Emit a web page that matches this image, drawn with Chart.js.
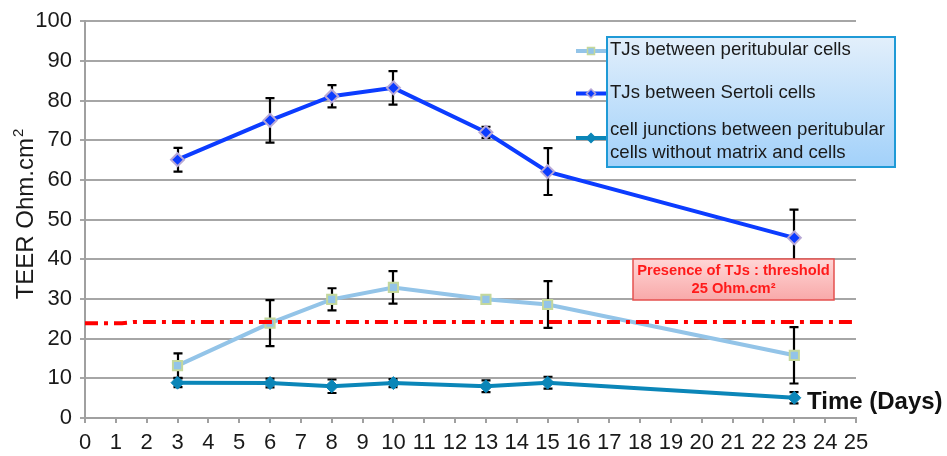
<!DOCTYPE html>
<html><head><meta charset="utf-8">
<script src="https://cdn.jsdelivr.net/npm/chart.js@4.4.1/dist/chart.umd.min.js"></script>
<style>html,body{margin:0;padding:0;background:#fff;}canvas{display:block;}</style>
</head><body>
<canvas id="c" width="947" height="456"></canvas>
<script>
// ---- data ----
const days = [3, 6, 8, 10, 13, 15, 23];
const seriesNames = ["TJs between peritubular cells", "TJs between Sertoli cells", "cell junctions between peritubular cells without matrix and cells"];
const legendLines = [["TJs between peritubular cells"], ["TJs between Sertoli cells"], ["cell junctions between peritubular", "cells without matrix and cells"]];
const peritubular = [13.2, 23.9, 29.9, 32.9, 29.9, 28.6, 15.8];
const peritubularErr = [3.1, 5.8, 2.8, 4.1, 1.0, 5.9, 7.1];
const sertoli = [65.1, 75.0, 81.1, 83.2, 72.0, 62.1, 45.4];
const sertoliErr = [3.0, 5.6, 2.8, 4.2, 1.4, 5.9, 7.1];
const junctions = [8.9, 8.8, 8.0, 8.8, 8.0, 8.9, 5.1];
const junctionsErr = [1.1, 1.1, 1.7, 1.0, 1.5, 1.5, 1.4];
const thresholdX = [0, 1.2, 1.6, 25];
const thresholdY = [23.9, 23.9, 24.2, 24.2];
const xTicks = [0,1,2,3,4,5,6,7,8,9,10,11,12,13,14,15,16,17,18,19,20,21,22,23,24,25];
const yTicks = [0,10,20,30,40,50,60,70,80,90,100];
const thresholdText = ["Presence of TJs : threshold", "25 Ohm.cm\u00B2"];
const xTitle = "Time (Days)";
const yTitle = "TEER Ohm.cm";
const yTitleSup = "2";

const FONT = "'Liberation Sans', Arial, sans-serif";
const pts = (ys) => days.map((d, i) => ({x: d, y: ys[i]}));

const colors = {
  peri: '#93c4e8', periBorder: '#c4d89c',
  sert: '#0c3cff', sertBorder: '#b8a8d6',
  junc: '#0b86b8'
};

const errorBars = {
  id: 'errorBars',
  beforeDatasetsDraw(chart) {
    const {ctx, scales: {x, y}} = chart;
    const sets = [[sertoli, sertoliErr], [peritubular, peritubularErr], [junctions, junctionsErr]];
    ctx.save();
    ctx.strokeStyle = '#000';
    ctx.lineWidth = 2.2;
    sets.forEach(([vals, errs]) => {
      days.forEach((d, i) => {
        const px = Math.round(x.getPixelForValue(d));
        const t = y.getPixelForValue(vals[i] + errs[i]);
        const b = y.getPixelForValue(vals[i] - errs[i]);
        ctx.beginPath();
        ctx.moveTo(px, t); ctx.lineTo(px, b);
        ctx.moveTo(px - 4.5, t); ctx.lineTo(px + 4.5, t);
        ctx.moveTo(px - 4.5, b); ctx.lineTo(px + 4.5, b);
        ctx.stroke();
      });
    });
    ctx.restore();
  }
};

const decorations = {
  id: 'decorations',
  afterDraw(chart) {
    const ctx = chart.ctx;
    ctx.save();
    // Y title
    ctx.save();
    ctx.fillStyle = '#1a1a1a';
    ctx.font = `24px ${FONT}`;
    const w1 = ctx.measureText(yTitle).width;
    ctx.font = `15px ${FONT}`;
    const w2 = ctx.measureText(yTitleSup).width;
    ctx.translate(33, 214);
    ctx.rotate(-Math.PI / 2);
    ctx.textBaseline = 'alphabetic';
    ctx.textAlign = 'left';
    const start = -(w1 + w2 + 1) / 2;
    ctx.font = `24px ${FONT}`;
    ctx.fillText(yTitle, start, 0);
    ctx.font = `15px ${FONT}`;
    ctx.fillText(yTitleSup, start + w1 + 1, -10);
    ctx.restore();

    // X title
    ctx.fillStyle = '#111';
    ctx.font = `bold 24px ${FONT}`;
    ctx.textAlign = 'left';
    ctx.textBaseline = 'middle';
    ctx.fillText(xTitle, 807, 402);

    // Threshold box
    const bx = 633, by = 259, bw = 201, bh = 41;
    let g = ctx.createLinearGradient(0, by, 0, by + bh);
    g.addColorStop(0, '#ffd6d6');
    g.addColorStop(1, '#f8a9a9');
    ctx.fillStyle = g;
    ctx.fillRect(bx, by, bw, bh);
    ctx.strokeStyle = '#e5514f';
    ctx.lineWidth = 1.5;
    ctx.strokeRect(bx, by, bw, bh);
    ctx.fillStyle = '#ff1a1a';
    ctx.font = `bold 14.7px ${FONT}`;
    ctx.textAlign = 'center';
    ctx.textBaseline = 'middle';
    ctx.fillText(thresholdText[0], bx + bw / 2, 271);
    ctx.fillText(thresholdText[1], bx + bw / 2, 289);

    // Legend
    const lx = 607, ly = 37, lw = 288, lh = 130;
    g = ctx.createLinearGradient(0, ly, 0, ly + lh);
    g.addColorStop(0, '#e2effb');
    g.addColorStop(1, '#a2d1fa');
    ctx.fillStyle = g;
    ctx.fillRect(lx, ly, lw, lh);
    ctx.strokeStyle = '#1f9ad6';
    ctx.lineWidth = 2;
    ctx.strokeRect(lx, ly, lw, lh);
    const sampleY = [51, 93.5, 138];
    const textY = [[50], [93], [130, 153]];
    const ds = chart.data.datasets;
    for (let i = 0; i < 3; i++) {
      const d = ds[i];
      ctx.strokeStyle = d.borderColor;
      ctx.lineWidth = 4;
      ctx.beginPath();
      ctx.moveTo(576, sampleY[i]); ctx.lineTo(606, sampleY[i]);
      ctx.stroke();
      const mx = 591, my = sampleY[i];
      ctx.fillStyle = d.pointBackgroundColor;
      ctx.strokeStyle = d.pointBorderColor;
      ctx.lineWidth = 1.5;
      ctx.beginPath();
      if (d.pointStyle === 'rect') {
        ctx.rect(mx - 3.5, my - 3.5, 7, 7);
      } else {
        ctx.moveTo(mx, my - 4.5); ctx.lineTo(mx + 4.5, my); ctx.lineTo(mx, my + 4.5); ctx.lineTo(mx - 4.5, my); ctx.closePath();
      }
      ctx.fill(); ctx.stroke();
      ctx.fillStyle = '#1a1a1a';
      ctx.font = `18.6px ${FONT}`;
      ctx.textAlign = 'left';
      ctx.textBaseline = 'middle';
      legendLines[i].forEach((t, j) => ctx.fillText(t, 610, textY[i][j]));
    }
    ctx.restore();
  }
};

new Chart(document.getElementById('c'), {
  type: 'line',
  data: {
    datasets: [
      { label: seriesNames[0], data: pts(peritubular), borderColor: colors.peri, borderWidth: 4,
        pointStyle: 'rect', pointRadius: 6.5, pointBackgroundColor: colors.peri, pointBorderColor: colors.periBorder, pointBorderWidth: 2, order: 2 },
      { label: seriesNames[1], data: pts(sertoli), borderColor: colors.sert, borderWidth: 4,
        pointStyle: 'rectRot', pointRadius: 6.5, pointBackgroundColor: colors.sert, pointBorderColor: colors.sertBorder, pointBorderWidth: 2, order: 2 },
      { label: seriesNames[2], data: pts(junctions), borderColor: colors.junc, borderWidth: 4,
        pointStyle: 'rectRot', pointRadius: 6.5, pointBackgroundColor: colors.junc, pointBorderColor: colors.junc, pointBorderWidth: 1, order: 2 },
      { label: 'threshold', data: thresholdX.map((v, i) => ({x: v, y: thresholdY[i]})), borderColor: '#ff0000', borderWidth: 4,
        borderDash: [13, 6, 4, 6], pointRadius: 0, order: 1 }
    ]
  },
  options: {
    responsive: false,
    animation: false,
    devicePixelRatio: 1,
    layout: { padding: { top: 19, right: 91, left: 0, bottom: 0 } },
    plugins: { legend: { display: false }, tooltip: { enabled: false } },
    elements: { line: { tension: 0 } },
    scales: {
      x: {
        type: 'linear', min: 0, max: 25,
        afterBuildTicks: s => { s.ticks = xTicks.map(v => ({value: v})); },
        afterFit: s => { s.height = 38; },
        ticks: { autoSkip: false, maxRotation: 0, color: '#1a1a1a', font: { family: FONT, size: 22 }, padding: 7 },
        grid: { drawOnChartArea: false, drawTicks: true, tickLength: 5, color: '#a0a0a0', lineWidth: 2 },
        border: { display: true, color: '#a0a0a0', width: 2 }
      },
      y: {
        min: 0, max: 100,
        afterBuildTicks: s => { s.ticks = yTicks.map(v => ({value: v})); },
        afterFit: s => { s.width = 85; },
        ticks: { color: '#1a1a1a', font: { family: FONT, size: 22 }, padding: 8 },
        grid: { color: '#a6a6a6', lineWidth: 2, tickLength: 5 },
        border: { display: true, color: '#a0a0a0', width: 2 }
      }
    }
  },
  plugins: [errorBars, decorations]
});
</script>
</body></html>
